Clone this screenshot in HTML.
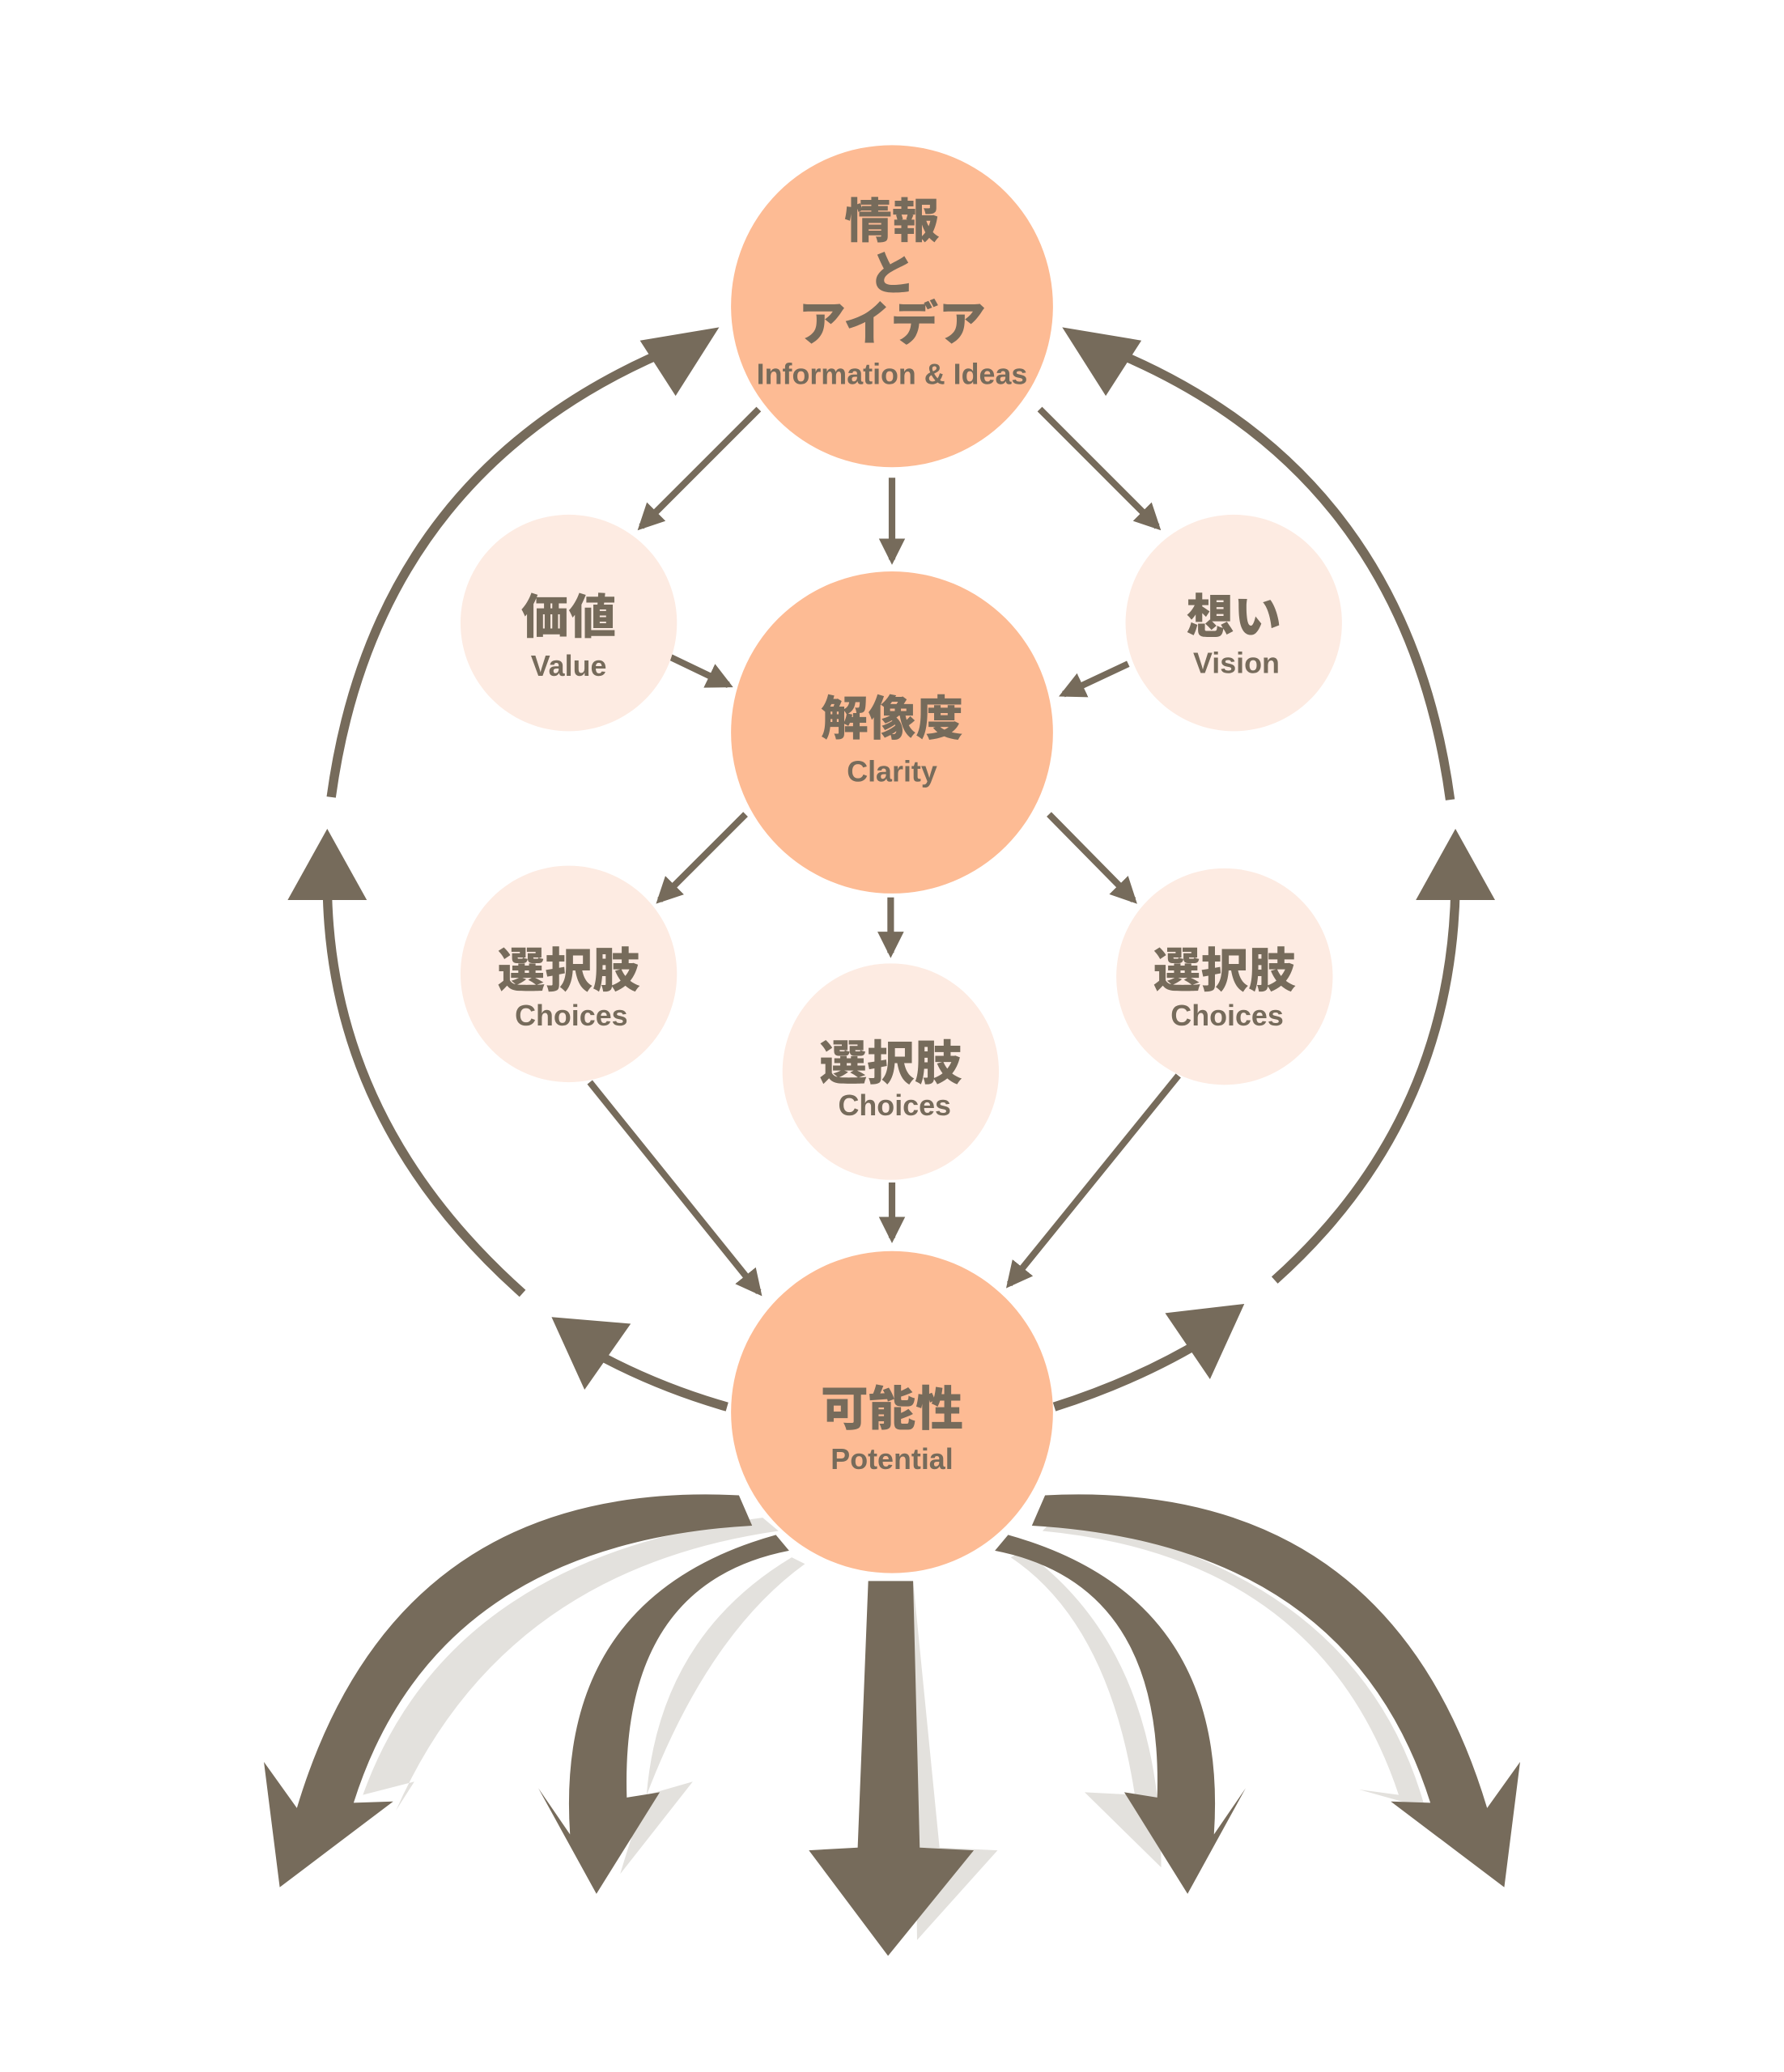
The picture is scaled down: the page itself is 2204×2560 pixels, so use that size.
<!DOCTYPE html>
<html><head><meta charset="utf-8"><style>
html,body{margin:0;padding:0;background:#fff;}
svg{display:block;}
.j{font-family:"Liberation Sans","Noto Sans CJK JP",sans-serif;font-weight:900;fill:#766B5B;text-anchor:middle;}
.e{font-family:"Liberation Sans",sans-serif;font-weight:700;fill:#766B5B;text-anchor:middle;}
</style></head><body>
<svg width="2204" height="2560" viewBox="0 0 1352 1570" preserveAspectRatio="none" xmlns="http://www.w3.org/2000/svg">
<defs>
<marker id="a" viewBox="0 0 10 10" refX="8" refY="5" markerWidth="4" markerHeight="4" orient="auto"><path d="M0,0L10,5L0,10z" fill="#766B5B"/></marker>
</defs>
<g fill="none" stroke="#766B5B" stroke-width="5">
<path d="M575,310L486,399" marker-end="url(#a)"/>
<path d="M676,362L676,424" marker-end="url(#a)"/>
<path d="M788,310L877,399" marker-end="url(#a)"/>
<path d="M502,495L552,519" marker-end="url(#a)"/>
<path d="M855,503L806,526" marker-end="url(#a)"/>
<path d="M565,617L500,682" marker-end="url(#a)"/>
<path d="M675,680L675,722" marker-end="url(#a)"/>
<path d="M795,617L859,682" marker-end="url(#a)"/>
<path d="M447,820L575,979" marker-end="url(#a)"/>
<path d="M676,896L676,938" marker-end="url(#a)"/>
<path d="M893,815L765,973" marker-end="url(#a)"/>
<g stroke-width="7">
<path d="M251,604Q285,355 515,262"/>
<path d="M396,980Q250,850 248,672"/>
<path d="M1099,606Q1065,355 838,264"/>
<path d="M966,970Q1100,850 1103,672"/>
<path d="M551,1066Q495,1050 445,1022"/>
<path d="M799,1066Q865,1045 918,1012"/>
</g>
</g>
<g fill="#766B5B">
<path d="M545,248L485,258L512,300Z"/>
<path d="M805,248L865,258L838,300Z"/>
<path d="M248,628L218,682L278,682Z"/>
<path d="M1103,628L1073,682L1133,682Z"/>
<path d="M418,998L478,1003L443,1053Z"/>
<path d="M943,988L883,995L917,1045Z"/>
</g>
<g fill="#E3E1DD">
<path d="M578,1150Q340,1180 275,1360L314,1350L300,1372Q380,1190 590,1160Z"/>
<path d="M600,1180Q500,1240 490,1360L525,1350L470,1420Q520,1250 610,1185Z"/>
<path d="M692,1198L712,1400L756,1402L695,1470Z"/>
<path d="M766,1180Q840,1230 860,1360L822,1358L880,1415Q880,1250 776,1175Z"/>
<path d="M790,1160Q1000,1180 1060,1360L1030,1356L1080,1370Q1030,1190 800,1150Z"/>
</g>
<g fill="#766B5B">
<path d="M560,1133Q300,1120 225,1370L200,1335L212,1430L298,1365L268,1366Q330,1170 570,1156Z"/>
<path d="M588,1163Q420,1210 432,1390L408,1355L452,1435L500,1358L475,1362Q470,1200 598,1175Z"/>
<path d="M658,1198L692,1198L697,1400L738,1402L673,1482L613,1402L650,1400Z"/>
<path d="M764,1163Q932,1210 920,1390L944,1355L900,1435L852,1358L877,1362Q882,1200 754,1175Z"/>
<path d="M792,1133Q1052,1120 1127,1370L1152,1335L1140,1430L1054,1365L1084,1366Q1022,1170 782,1156Z"/>
</g>
<g fill="#FDBB94">
<circle cx="676" cy="232" r="122"/>
<circle cx="676" cy="555" r="122"/>
<circle cx="676" cy="1070" r="122"/>
</g>
<g fill="#FDEBE2">
<circle cx="431" cy="472" r="82"/>
<circle cx="935" cy="472" r="82"/>
<circle cx="431" cy="738" r="82"/>
<circle cx="675" cy="812" r="82"/>
<circle cx="928" cy="740" r="82"/>
</g>
<text class="j" x="676" y="180" font-size="36">情報</text>
<text class="j" x="676" y="220" font-size="36">と</text>
<text class="j" x="676" y="258" font-size="36">アイデア</text>
<text class="e" x="676" y="291" font-size="22">Information &amp; Ideas</text>
<text class="j" x="676" y="557" font-size="36">解像度</text>
<text class="e" x="676" y="592" font-size="22">Clarity</text>
<text class="j" x="676" y="1080" font-size="36">可能性</text>
<text class="e" x="676" y="1113" font-size="22">Potential</text>
<text class="j" x="431" y="480" font-size="36">価値</text>
<text class="e" x="431" y="512" font-size="22">Value</text>
<text class="j" x="935" y="480" font-size="36">想い</text>
<text class="e" x="937" y="510" font-size="22">Vision</text>
<text class="j" x="431" y="748" font-size="36">選択肢</text>
<text class="e" x="433" y="777" font-size="22">Choices</text>
<text class="j" x="675" y="818" font-size="36">選択肢</text>
<text class="e" x="678" y="845" font-size="22">Choices</text>
<text class="j" x="928" y="748" font-size="36">選択肢</text>
<text class="e" x="930" y="777" font-size="22">Choices</text>
</svg>
</body></html>
